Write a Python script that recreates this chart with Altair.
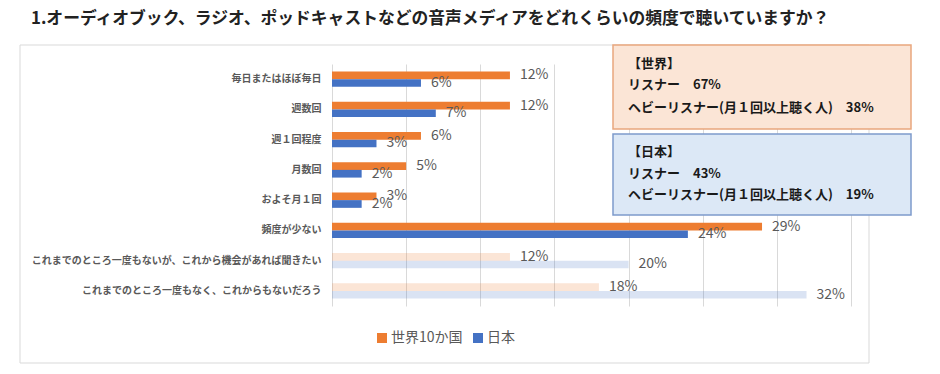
import altair as alt
import pandas as pd

title_text = "1.オーディオブック、ラジオ、ポッドキャストなどの音声メディアをどれくらいの頻度で聴いていますか？"
categories = [
    "毎日またはほぼ毎日",
    "週数回",
    "週１回程度",
    "月数回",
    "およそ月１回",
    "頻度が少ない",
    "これまでのところ一度もないが、これから機会があれば聞きたい",
    "これまでのところ一度もなく、これからもないだろう",
]
series_names = ["世界10か国", "日本"]
world_values = [12, 12, 6, 5, 3, 29, 12, 18]
japan_values = [6, 7, 3, 2, 2, 24, 20, 32]
pale_categories = categories[-2:]
grid_ticks = [0, 5, 10, 15, 20, 25, 30, 35]
world_box_lines = ["【世界】", "リスナー　67%", "ヘビーリスナー(月１回以上聴く人)　38%"]
japan_box_lines = ["【日本】", "リスナー　43%", "ヘビーリスナー(月１回以上聴く人)　19%"]

rows = []
for s, vals in zip(series_names, [world_values, japan_values]):
    for c, v in zip(categories, vals):
        rows.append({"category": c, "series": s, "value": v})
df = pd.DataFrame(rows)

ORANGE = "#ED7D31"
BLUE = "#4472C4"
FONT = "Noto Sans CJK JP"
GRAY = "#595959"

one = pd.DataFrame({"k": [0]})

y_enc = alt.Y(
    "category:N",
    sort=categories,
    scale=alt.Scale(paddingInner=0, paddingOuter=0),
    axis=alt.Axis(
        title=None, ticks=False, domain=False, grid=False,
        labelFont=FONT, labelFontSize=10, labelFontWeight="bold",
        labelColor=GRAY, labelPadding=11, labelLimit=400,
    ),
)
yoff_enc = alt.YOffset(
    "series:N", sort=series_names,
    scale=alt.Scale(paddingInner=0, paddingOuter=0.96),
)
x_enc = alt.X(
    "value:Q",
    scale=alt.Scale(domain=[0, 35], nice=False),
    axis=alt.Axis(
        title=None, values=grid_ticks, labels=False, ticks=False,
        domain=False, grid=True, gridColor="#D9D9D9", gridWidth=1,
    ),
)

frame = alt.Chart(one).mark_rect(fillOpacity=0, stroke="#D9D9D9", strokeWidth=1).encode(
    x=alt.value(-312), x2=alt.value(537), y=alt.value(-19), y2=alt.value(299)
)

bars = alt.Chart(df).mark_bar().encode(
    x=x_enc,
    y=y_enc,
    yOffset=yoff_enc,
    color=alt.Color(
        "series:N",
        sort=series_names,
        scale=alt.Scale(domain=series_names, range=[ORANGE, BLUE]),
        legend=alt.Legend(
            title=None, orient="none", legendX=43, legendY=267,
            direction="horizontal", symbolType="square", symbolSize=100,
            symbolStrokeWidth=0, labelFont=FONT, labelFontSize=14,
            labelColor=GRAY, labelOffset=2, columnPadding=8,
        ),
    ),
    opacity=alt.condition(
        alt.FieldOneOfPredicate(field="category", oneOf=pale_categories),
        alt.value(0.2),
        alt.value(1.0),
    ),
)

labels = alt.Chart(df).transform_calculate(
    label="datum.value + '%'"
).mark_text(
    align="left", baseline="middle", dx=10, font=FONT, fontSize=14, color=GRAY
).encode(
    x=alt.X("value:Q"),
    y=alt.Y("category:N", sort=categories),
    yOffset=alt.YOffset("series:N", sort=series_names),
    text="label:N",
)

title = alt.Chart(one).mark_text(
    align="left", baseline="middle", font=FONT, fontSize=16.8, fontWeight="bold", color="#222222"
).encode(x=alt.value(-301), y=alt.value(-45.5), text=alt.value(title_text))

box_world = alt.Chart(one).mark_rect(fill="#FBE5D6", stroke="#E9A77E", strokeWidth=1.5).encode(
    x=alt.value(281), x2=alt.value(579), y=alt.value(-19), y2=alt.value(65)
)
box_japan = alt.Chart(one).mark_rect(fill="#DCE8F6", stroke="#7D9ACB", strokeWidth=1.5).encode(
    x=alt.value(281), x2=alt.value(579), y=alt.value(70), y2=alt.value(151)
)

box_texts = []
for lines, ys in [(world_box_lines, [0, 21, 43.7]), (japan_box_lines, [87.7, 110.3, 131])]:
    for line, yy in zip(lines, ys):
        box_texts.append(
            alt.Chart(one).mark_text(
                align="left", baseline="middle", font=FONT, fontSize=13,
                fontWeight="bold", color="#1a1a1a",
            ).encode(x=alt.value(296), y=alt.value(yy), text=alt.value(line))
        )

chart = alt.layer(frame, bars, labels, title, box_world, box_japan, *box_texts).properties(
    width=519,
    height=242,
    autosize=alt.AutoSizeParams(type="none"),
    padding={"left": 324, "top": 56, "right": 70, "bottom": 62},
    background="white",
).configure_view(stroke=None)

chart.save("out.html", embed_options={"renderer": "svg", "actions": False})
